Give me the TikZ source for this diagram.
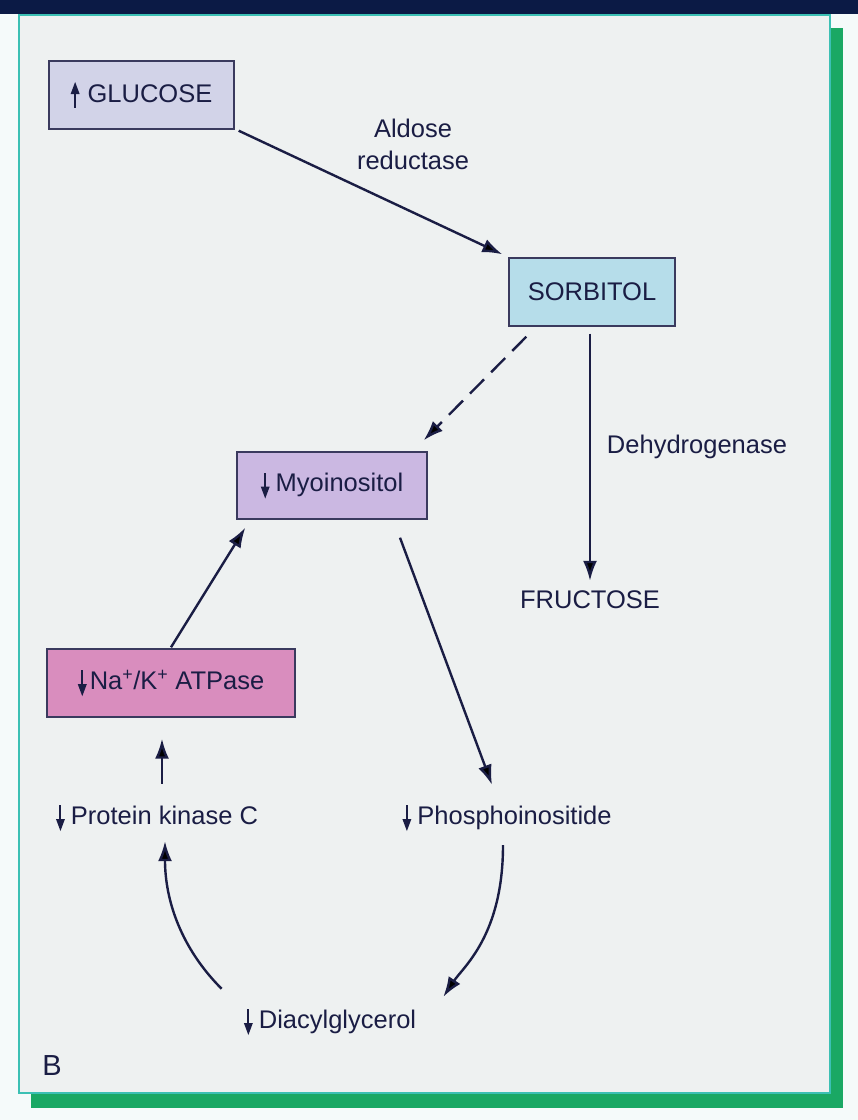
\documentclass[tikz,border=0pt]{standalone}
\usepackage{fontspec}
\setmainfont{Liberation Sans}
\usetikzlibrary{arrows.meta,calc}
\definecolor{navy}{HTML}{0B1A45}
\definecolor{ink}{HTML}{1A1D44}
\definecolor{panelbg}{HTML}{EEF1F1}
\definecolor{tealline}{HTML}{3CC0B4}
\definecolor{shadowgreen}{HTML}{1AA864}
\definecolor{glufill}{HTML}{D2D3E8}
\definecolor{sorfill}{HTML}{B6DDEA}
\definecolor{myofill}{HTML}{CBB8E2}
\definecolor{atpfill}{HTML}{D98DBE}
\definecolor{boxline}{HTML}{3A3A5E}
\newcommand{\upar}{\tikz[x=1pt,y=1pt,baseline=0pt]{\fill[ink] (-1,-6) rectangle (1,10); \fill[ink] (-4.5,8) -- (0,20) -- (4.5,8) -- cycle;}}
\newcommand{\dnar}{\tikz[x=1pt,y=1pt,baseline=0pt]{\fill[ink] (-1,19) rectangle (1,3); \fill[ink] (-4.5,5) -- (0,-7) -- (4.5,5) -- cycle;}}
\begin{document}
\begin{tikzpicture}[x=1pt,y=-1pt,
  every node/.style={font=\fontsize{25.5}{32}\selectfont, text=ink, inner sep=0pt},
  box/.style={draw=boxline, line width=1.4pt, minimum width=#1, minimum height=68pt},
  arr/.style={draw=ink, line width=2.4pt, -{Latex[length=20pt,width=14pt]}},
  darr/.style={arr, dash pattern=on 20pt off 10pt}]
\useasboundingbox (0,0) rectangle (858,1120);
\fill[white!96!teal] (0,0) rectangle (858,1120);
\fill[navy] (0,0) rectangle (858,14);
\fill[shadowgreen] (31,28) rectangle (843,1108);
\draw[fill=panelbg, draw=tealline, line width=2pt] (19,15) rectangle (830,1093);

\node[box=185pt, fill=glufill] (glu) at (141.5,95) {\upar\hspace{8pt}GLUCOSE};
\node[box=166pt, fill=sorfill] (sor) at (592,292) {SORBITOL};
\node[box=190pt, fill=myofill, minimum height=67pt] (myo) at (332,485.5) {\dnar\hspace{6pt}Myoinositol};
\node[box=248pt, fill=atpfill] (atp) at (171,683) {\dnar\hspace{3pt}Na\textsuperscript{+}/K\textsuperscript{+} ATPase};

\node[align=center] (ald) at (413,144) {Aldose\\reductase};
\node (deh) at (697,447) {Dehydrogenase};
\node (fru) at (590,600) {FRUCTOSE};
\node (pkc) at (157,818) {\dnar\hspace{6pt}Protein kinase C};
\node (pho) at (507,818) {\dnar\hspace{6pt}Phosphoinositide};
\node (dag) at (330,1022) {\dnar\hspace{6pt}Diacylglycerol};
\node[font=\fontsize{29}{32}\selectfont] (lab) at (52,1066) {B};

\draw[arr] ($(glu.south east)+(4,1)$) -- ($(sor.north west)+(-6,-3)$);
\draw[darr] ($(sor.south west)+(18,10)$) -- ($(myo.north east)+(-4,-11)$);
\draw[arr] ($(sor.south)+(-2,7)$) -- ($(fru.north)+(0,-10)$);
\draw[arr] ($(atp.north)+(0,-1)$) -- ($(myo.south west)+(9,8)$);
\draw[arr] ($(myo.south)+(68,18)$) -- ($(pho.north)+(-15,-20)$);
\draw[arr] ($(pkc.north)+(5,-21)$) -- ($(atp.south)+(-9,21)$);
\draw[arr] ($(pho.south)+(-4,14)$) .. controls +(0,90) and +(20,-30) .. ($(dag.north east)+(27,-12)$);
\draw[arr] ($(dag.north west)+(-22,-20)$) .. controls +(-40,-40) and +(0,60) .. ($(pkc.south)+(8,10)$);
\end{tikzpicture}
\end{document}
